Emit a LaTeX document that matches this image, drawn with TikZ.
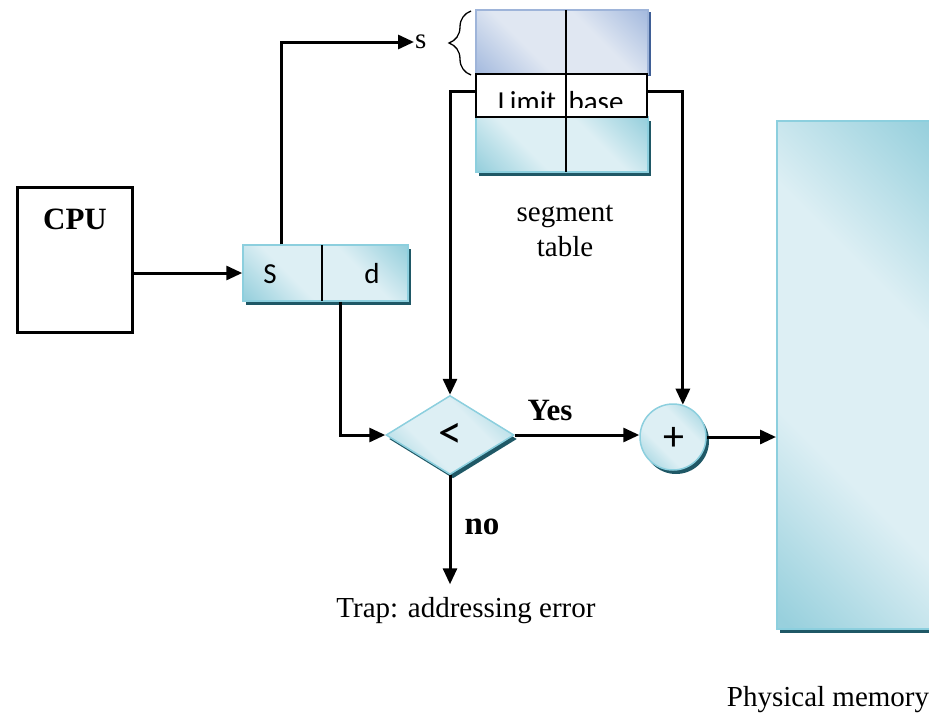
\documentclass[tikz,border=0pt]{standalone}
\usepackage{fontspec}
\setmainfont{Liberation Serif}
\newfontfamily\calfont{Carlito}
\usetikzlibrary{arrows.meta,shapes.geometric,shadows,decorations.pathreplacing}
\definecolor{cyanL}{HTML}{DDEFF4}
\definecolor{cyanD}{HTML}{98D0DD}
\definecolor{cyanB}{HTML}{8CCFDE}
\definecolor{shadowC}{HTML}{1F5866}
\definecolor{blueL}{HTML}{E0E7F2}
\definecolor{blueD}{HTML}{A7BCDF}
\definecolor{blueB}{HTML}{9EB4D9}
\definecolor{blueS}{HTML}{3F5F96}
% glassy fills: dark corners, light diagonal band
\pgfdeclarehorizontalshading{cyanglass}{100bp}{color(0bp)=(cyanD); color(16bp)=(cyanD);
  color(38bp)=(cyanL); color(62bp)=(cyanL); color(84bp)=(cyanD); color(100bp)=(cyanD)}
\pgfdeclarehorizontalshading{blueglass}{100bp}{color(0bp)=(blueD); color(16bp)=(blueD);
  color(38bp)=(blueL); color(62bp)=(blueL); color(84bp)=(blueD); color(100bp)=(blueD)}
\begin{document}
\begin{tikzpicture}[x=1pt,y=-1pt,
  every node/.style={font=\fontsize{29}{35}\selectfont},
  wire/.style={line width=3pt},
  arr/.style={wire, -{Triangle[length=16pt,width=14pt]}},
  sans/.style={font=\calfont\fontsize{29}{35}\selectfont, inner sep=0pt},
  bold/.style={font=\bfseries\fontsize{31}{35}\selectfont},
  cyanbox/.style={draw=cyanB, line width=1.5pt, shading=cyanglass, shading angle=45,
    inner sep=0pt,
    general shadow={fill=shadowC, shadow xshift=3pt, shadow yshift=-4pt}},
  bluebox/.style={draw=blueB, line width=1.5pt, shading=blueglass, shading angle=45,
    inner sep=0pt,
    general shadow={fill=blueS, shadow xshift=3pt, shadow yshift=-2pt}},
  divider/.style={line width=1.3pt}]
\useasboundingbox (0,0) rectangle (929,715);

% CPU
\node[draw, line width=3pt, minimum width=115pt, minimum height=145pt] (cpu) at (75,260) {};
\node[bold] (cpulabel) at (75,219) {CPU};

% logical address: segment number and displacement
\node[cyanbox, minimum width=165pt, minimum height=56pt] (sd) at (325.5,273) {};
\coordinate (sdtop) at (322,245);
\coordinate (sdbot) at (322,301);
\draw[divider] (sdtop) -- (sdbot);
\node[sans] (slet) at (270,274) {S};
\node[sans] (dlet) at (372,274) {d};

% segment table
\node[bluebox, minimum width=172pt, minimum height=64pt] (segtop) at (562,42) {};
\node[cyanbox, minimum width=172pt, minimum height=55pt] (segbot) at (562,144.5) {};
\node[draw, fill=white, line width=1.5pt, minimum width=171pt, minimum height=43pt, inner sep=0pt] (segmid) at (561.5,95.5) {};
\coordinate (tabtop) at (566,10);
\coordinate (tabbot) at (566,172);
\draw[divider] (tabtop) -- (tabbot);
\begin{scope}
  \clip (476,74) rectangle (647,107.5);
  \node[sans, anchor=base] (limit) at (527,111.5) {Limit};
  \node[sans, anchor=base] (base) at (596,111.5) {base};
\end{scope}
\node[align=center] (tablabel) at (565,231) {segment\\table};

% index label and brace
\node[anchor=west, inner sep=1pt] (slabel) at (414,42) {s};
\coordinate (bracebot) at (471,75);
\coordinate (bracetop) at (471,11);
\draw[line width=1.3pt, decorate, decoration={brace, amplitude=22pt}] (bracebot) -- (bracetop);

% comparison and adder
\node[diamond, cyanbox, minimum width=128pt, minimum height=79pt, shadow yshift=-3pt] (dia) at (450,435) {};
\node[sans, font=\calfont\fontsize{48}{48}\selectfont] (lt) at (450,436) {<};
\node[circle, cyanbox, minimum size=66pt, shadow xshift=2pt, shadow yshift=-2pt] (plus) at (673,437) {};
\node[sans, font=\calfont\fontsize{42}{42}\selectfont] (pl) at (674,439) {+};

% physical memory
\node[cyanbox, minimum width=160pt, minimum height=508pt, anchor=north west] (mem) at (776,120) {};
\node (memlabel) at (828,700) {Physical memory};

% labels
\node[bold] (yes) at (550,410) {Yes};
\node[bold, font=\bfseries\fontsize{33}{35}\selectfont] (no) at (482,527) {no};
\node (trap) at (466,611) {Trap: addressing error};

% connectors
\draw[arr] (cpu.east |- sd.west) -- (sd.west);
\draw[arr] ([xshift=-44.5pt]sd.north) |- (slabel.west);
\draw[arr] ([xshift=14.5pt]sd.south) |- (dia.west);
\draw[arr] ([yshift=4pt]segmid.west) -| (dia.north);
\draw[arr] ([yshift=4pt]segmid.east) -| (plus.73);
\draw[arr] (dia.east) -- (dia.east -| plus.west);
\draw[arr] (plus.east) -- (plus.east -| mem.west);
\draw[arr, shorten >=10pt] (dia.south) -- (dia.south |- trap.north);
\end{tikzpicture}
\end{document}
